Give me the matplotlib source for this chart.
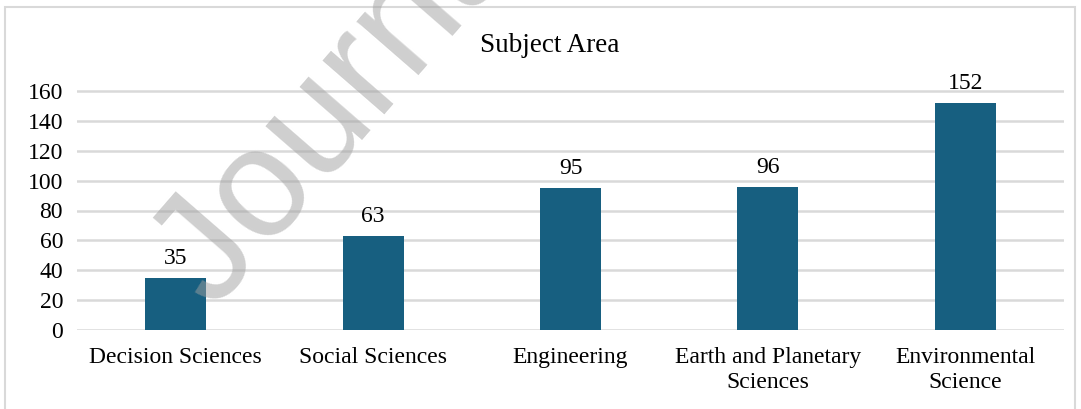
import matplotlib.pyplot as plt
from matplotlib.patches import Rectangle

categories = ["Decision Sciences", "Social Sciences", "Engineering",
              "Earth and Planetary\nSciences", "Environmental\nScience"]
counts = [35, 63, 95, 96, 152]

plt.rcParams['font.family'] = ['Liberation Serif', 'DejaVu Serif']

fig = plt.figure(figsize=(10.81, 4.09), dpi=100)
ax = fig.add_axes([77/1081, 1 - 330/409, (1064-77)/1081, (330-91)/409 * 170/160])

x = range(len(categories))
bars = ax.bar(x, counts, width=0.31, color='#175f80', zorder=3)
for i, v in enumerate(counts):
    ax.text(i, v + 6, str(v), ha='center', va='bottom', fontsize=17, zorder=4)

ax.set_xlim(-0.5, len(categories) - 0.5)
ax.set_ylim(0, 170)
ax.set_yticks(range(0, 161, 20))
ax.yaxis.grid(True, color='#d9d9d9', linewidth=1.8, zorder=0)
ax.set_xticks(list(x))
ax.set_xticklabels(categories, fontsize=17, linespacing=1.25)
ax.tick_params(axis='both', length=0, labelsize=17)
ax.tick_params(axis='x', pad=12)
ax.tick_params(axis='y', pad=10)
for s in ax.spines.values():
    s.set_visible(False)

fig.text(550/1081, 1 - 45/409, "Subject Area", ha='center', va='center', fontsize=19.5)

# outer chart border
fig.patches.append(Rectangle((5/1081, -0.05), 1070/1081, 1 - 7/409 + 0.05,
                             transform=fig.transFigure, fill=False,
                             edgecolor='#d9d9d9', linewidth=1.5))

# watermark
fig.text(238/1081, 1 - 332/409, "Journal Pre-proof", rotation=49, color='#a0a0a0',
         alpha=0.5, fontsize=112, family='Liberation Sans', ha='left', va='bottom',
         rotation_mode='anchor', zorder=10)

fig.savefig("out.png", dpi=100)
